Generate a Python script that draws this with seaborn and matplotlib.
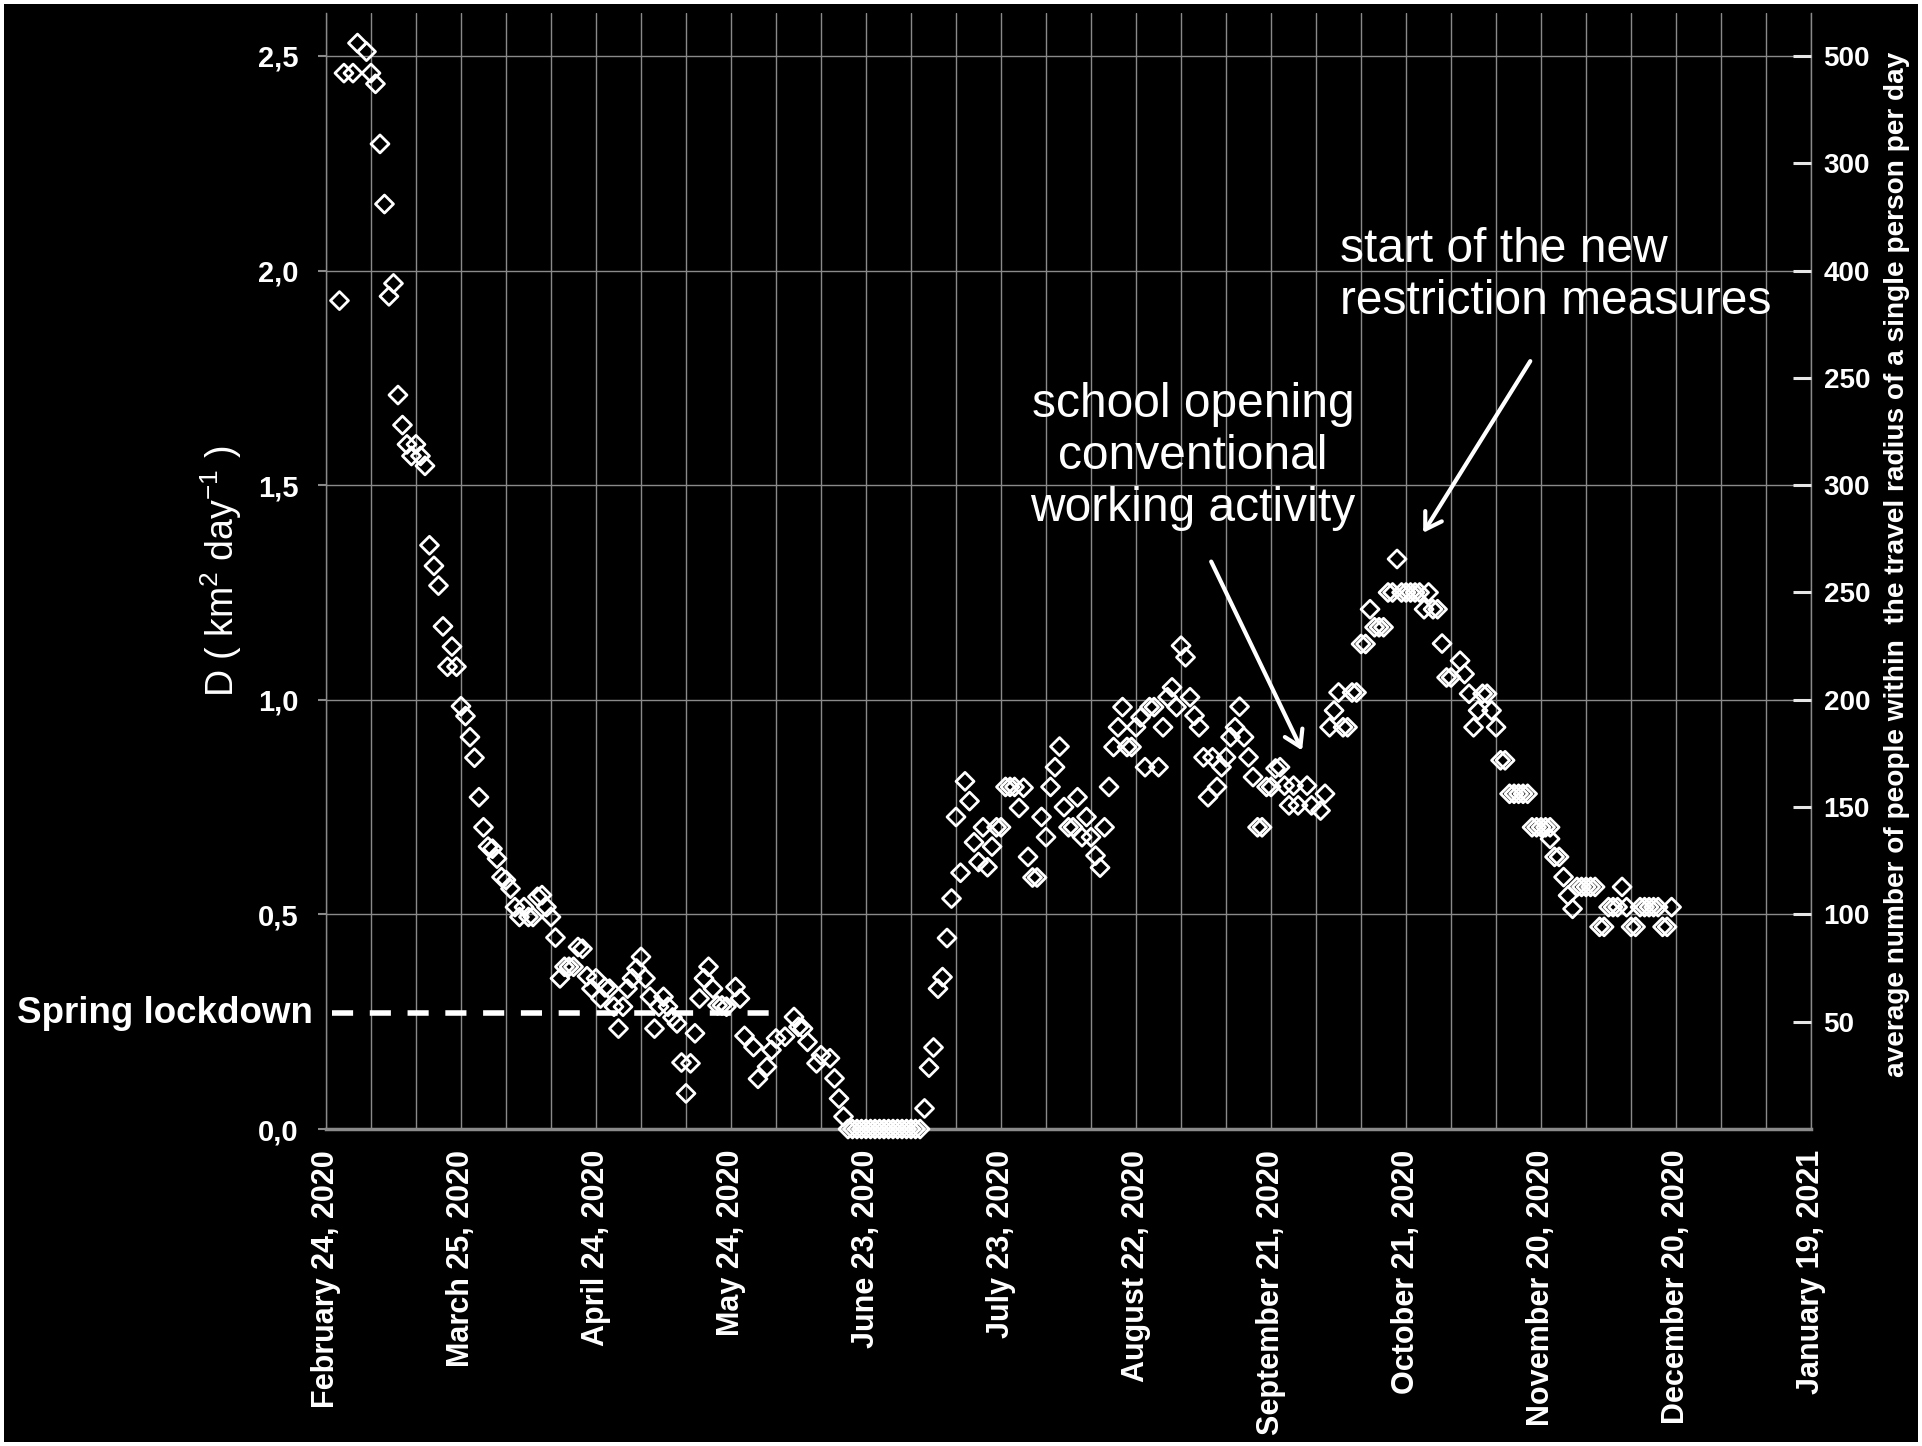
import matplotlib
matplotlib.use("Agg")
import matplotlib.pyplot as plt
import matplotlib.dates as mdates
import matplotlib.transforms as mtransforms
from datetime import datetime, timedelta
import pandas as pd
import seaborn as sns

# ---------------------------------------------------------------------------
# Data: daily diffusion coefficient D (km^2 day^-1), days counted from 24 Feb 2020
# ---------------------------------------------------------------------------
start_date = datetime(2020, 2, 24)

day_offsets = [
    3, 4, 6, 7, 9, 10, 11, 12, 13, 14, 15, 16, 17, 18, 19, 20, 21, 22,
    23, 24, 25, 26, 27, 28, 29, 30, 31, 32, 33, 34, 35, 36, 37, 38, 39, 40,
    41, 42, 43, 44, 45, 46, 47, 48, 49, 50, 51, 52, 53, 54, 55, 56, 57, 58,
    59, 60, 61, 62, 63, 64, 65, 66, 67, 68, 69, 70, 71, 72, 73, 74, 75, 76,
    77, 78, 79, 80, 81, 82, 83, 84, 85, 86, 87, 88, 89, 91, 92, 93, 95, 96,
    98, 99, 100, 102, 104, 105, 106, 107, 109, 110, 112, 113, 114, 115,
    116, 117, 118, 119, 120, 121, 122, 123, 124, 125, 126, 127, 128, 129,
    130, 131, 132, 133, 134, 135, 136, 137, 138, 139, 140, 141, 142, 143,
    144, 145, 146, 147, 148, 149, 150, 151, 152, 153, 154, 155, 156, 157,
    158, 159, 160, 161, 162, 163, 164, 165, 166, 167, 168, 169, 170, 171,
    172, 173, 174, 175, 176, 177, 178, 179, 180, 181, 182, 183, 184, 185,
    186, 187, 188, 189, 190, 191, 192, 193, 194, 195, 196, 197, 198, 199,
    200, 201, 202, 203, 204, 205, 206, 207, 208, 209, 210, 211, 212, 213,
    214, 215, 216, 218, 219, 221, 222, 223, 224, 225, 226, 227, 228, 229,
    230, 231, 232, 233, 234, 235, 236, 237, 238, 239, 240, 241, 242, 243,
    244, 245, 246, 247, 248, 249, 250, 252, 253, 254, 255, 256, 257, 258,
    259, 260, 261, 262, 263, 264, 265, 266, 267, 268, 269, 270, 271, 272,
    272, 273, 274, 275, 276, 277, 278, 279, 280, 281, 282, 283, 284, 285,
    286, 287, 288, 289, 290, 291, 292, 293, 294, 295, 296, 297, 298, 299,
]

d_values = [
    1.93, 2.46, 2.46, 2.53, 2.51, 2.46, 2.435, 2.295, 2.155, 1.94, 1.97, 1.71,
    1.64, 1.595, 1.568, 1.595, 1.568, 1.545,
    1.36, 1.312, 1.266, 1.171, 1.077, 1.124, 1.077, 0.985, 0.962, 0.913, 0.865,
    0.773, 0.703, 0.658, 0.653, 0.630, 0.587, 0.580,
    0.560, 0.517, 0.494, 0.517, 0.494, 0.494, 0.541, 0.545, 0.517, 0.494, 0.446,
    0.351, 0.378, 0.378, 0.378, 0.424, 0.420, 0.356,
    0.327, 0.351, 0.304, 0.330, 0.327, 0.285, 0.234, 0.285, 0.327, 0.351, 0.374,
    0.401, 0.351, 0.308, 0.234, 0.285, 0.308, 0.285,
    0.260, 0.246, 0.155, 0.083, 0.153, 0.223, 0.304, 0.351, 0.378, 0.327, 0.288,
    0.288, 0.285, 0.331, 0.304, 0.217, 0.191, 0.117,
    0.145, 0.184, 0.211, 0.215, 0.261, 0.238, 0.234, 0.203, 0.153, 0.172, 0.165,
    0.118, 0.071, 0.029,
    0.0, 0.0, 0.0, 0.0, 0.0, 0.0, 0.0, 0.0, 0.0, 0.0, 0.0, 0.0, 0.0, 0.0,
    0.0, 0.0, 0.0, 0.048, 0.143, 0.190, 0.327, 0.354, 0.445, 0.537, 0.727,
    0.597, 0.810, 0.764,
    0.668, 0.622, 0.703, 0.610, 0.658, 0.703, 0.703, 0.797, 0.797, 0.797, 0.748,
    0.795, 0.634, 0.586,
    0.586, 0.727, 0.680, 0.797, 0.843, 0.891, 0.750, 0.703, 0.703, 0.773, 0.680,
    0.727, 0.680, 0.637,
    0.609, 0.703, 0.797, 0.890, 0.936, 0.983, 0.890, 0.890, 0.936, 0.959, 0.843,
    0.983, 0.983, 0.843,
    0.936, 1.006, 1.029, 0.983, 1.126, 1.099, 1.006, 0.963, 0.936, 0.866, 0.773,
    0.866, 0.797, 0.843,
    0.866, 0.913, 0.936, 0.984, 0.913, 0.866, 0.820, 0.703, 0.703, 0.797, 0.797,
    0.840, 0.843, 0.800,
    0.754, 0.800, 0.754, 0.800, 0.754, 0.742, 0.781, 0.936, 0.975, 1.017, 0.936,
    0.936, 1.017, 1.017,
    1.130, 1.130, 1.211, 1.169, 1.169, 1.169, 1.250, 1.250, 1.328, 1.250, 1.250,
    1.250, 1.250, 1.250,
    1.211, 1.250, 1.211, 1.211, 1.131, 1.052, 1.052, 1.091, 1.060, 1.014, 0.936,
    0.975, 1.014, 1.014,
    0.975, 0.936, 0.859, 0.859, 0.781, 0.781, 0.781, 0.781, 0.781, 0.703, 0.703,
    0.703, 0.703, 0.703,
    0.676, 0.634, 0.634, 0.587, 0.544, 0.513, 0.564, 0.564, 0.564, 0.564, 0.564,
    0.471, 0.471, 0.517,
    0.517, 0.517, 0.564, 0.517, 0.471, 0.471, 0.517, 0.517, 0.517, 0.517, 0.517,
    0.471, 0.471, 0.517,
]

# Axis ticks and labels
date_tick_offsets = list(range(0, 331, 30))
grid_day_offsets = list(range(0, 331, 10))
left_ticks = [0.0, 0.5, 1.0, 1.5, 2.0, 2.5]
left_tick_labels = ["0,0", "0,5", "1,0", "1,5", "2,0", "2,5"]
right_ticks = [0.25, 0.5, 0.75, 1.0, 1.25, 1.5, 1.75, 2.0, 2.25, 2.5]
right_tick_labels = ["50", "100", "150", "200", "250", "300", "250", "400", "300", "500"]
lockdown_level = 0.27

# ---------------------------------------------------------------------------
sns.set_style("dark")
plt.rcParams["font.family"] = ["Liberation Sans", "DejaVu Sans"]
plt.rcParams["mathtext.fontset"] = "custom"
plt.rcParams["mathtext.rm"] = "Liberation Sans"

GRID = "#8a8a8a"
FG = "white"


def at(day):
    return mdates.date2num(start_date + timedelta(days=day))


df = pd.DataFrame({
    "date": [start_date + timedelta(days=int(d)) for d in day_offsets],
    "D": d_values,
})

fig = plt.figure(figsize=(19.22, 14.46), dpi=100, facecolor="black")
fig.patch.set_edgecolor("white")
fig.patch.set_linewidth(4.5)

ax = fig.add_axes([0.1696, 0.2192, 0.7727, 0.7718])
ax.set_facecolor("black")

sns.scatterplot(data=df, x="date", y="D", ax=ax, marker="D", s=84,
                linewidth=2.0, legend=False, zorder=3)
pts = ax.collections[0]
pts.set_facecolor("none")
pts.set_edgecolor(FG)
pts.set_clip_on(False)

ax.set_xlim(at(0), at(330))
ax.set_ylim(0, 2.6)

# x axis: labelled ticks every 30 days, grid every 10 days
ax.set_xticks([at(d) for d in date_tick_offsets])
tick_dates = [start_date + timedelta(days=d) for d in date_tick_offsets]
ax.set_xticklabels([f"{t:%B} {t.day}, {t.year}" for t in tick_dates],
                   rotation=90, fontweight="bold", fontsize=22, color=FG)
ax.set_xticks([at(d) for d in grid_day_offsets], minor=True)
ax.tick_params(axis="x", which="major", direction="out", length=6, width=1.5,
               color=GRID, pad=9)
ax.tick_params(axis="x", which="minor", length=0)

ax.set_yticks(left_ticks)
ax.set_yticklabels(left_tick_labels, fontweight="bold", fontsize=21, color=FG)
ax.tick_params(axis="y", direction="out", length=6, width=1.5, color=GRID, pad=14)

ax.grid(True, axis="x", which="both", color=GRID, lw=1.0)
ax.grid(True, axis="y", which="major", color=GRID, lw=1.0)
ax.set_axisbelow(True)

ax.spines["top"].set_visible(False)
for side in ("left", "right"):
    ax.spines[side].set_color(GRID)
    ax.spines[side].set_linewidth(1.0)
ax.spines["bottom"].set_color(GRID)
ax.spines["bottom"].set_linewidth(2.5)

ax.set_xlabel("")
ax.set_ylabel(r"D ( km$^{\mathregular{2}}$ day$^{\mathregular{-1}}$ )",
              fontsize=27, color=FG, va="center")
ax.yaxis.set_label_coords(-0.0707, 0.5)

# right axis with its own scale labels
ax2 = ax.twinx()
ax2.set_ylim(ax.get_ylim())
ax2.set_yticks(right_ticks)
ax2.set_yticklabels(right_tick_labels, fontweight="bold", fontsize=20, color=FG)
ax2.tick_params(axis="y", direction="in", length=13, width=2.2, color="#e6e6e6", pad=9)
for sp in ax2.spines.values():
    sp.set_visible(False)
ax2.grid(False)
ax2.set_ylabel("average number of people within  the travel radius of a single person per day",
               fontsize=20.2, fontweight="bold", color=FG, va="center")
ax2.yaxis.set_label_coords(1.058, 0.506)

# spring lockdown reference level
ax.plot([at(1.4), at(101)], [lockdown_level, lockdown_level], color=FG, lw=4,
        linestyle=(0, (3.8, 3.0)), zorder=4)
blend = mtransforms.blended_transform_factory(ax.transAxes, ax.transData)
ax.text(-0.0088, lockdown_level, "Spring lockdown", transform=blend,
        ha="right", va="center", fontsize=26.5, fontweight="bold", color=FG)

# event annotations
ax.text(at(192.7), 1.566, "school opening\nconventional\nworking activity",
        ha="center", va="center", multialignment="center", fontsize=34.5, color=FG)
ax.text(at(225.3), 1.988, "start of the new\nrestriction measures",
        ha="left", va="center", fontsize=34.5, color=FG)

arrow_kw = dict(arrowstyle="->,head_length=0.45,head_width=0.28", color=FG,
                lw=3, mutation_scale=25, shrinkA=0, shrinkB=0)
ax.annotate("", xy=(at(216.9), 0.882), xytext=(at(196.7), 1.322), arrowprops=arrow_kw)
ax.annotate("", xy=(at(243.8), 1.389), xytext=(at(267.6), 1.789), arrowprops=arrow_kw)

fig.savefig("out.png", dpi=100, facecolor=fig.get_facecolor(),
            edgecolor=fig.patch.get_edgecolor())
